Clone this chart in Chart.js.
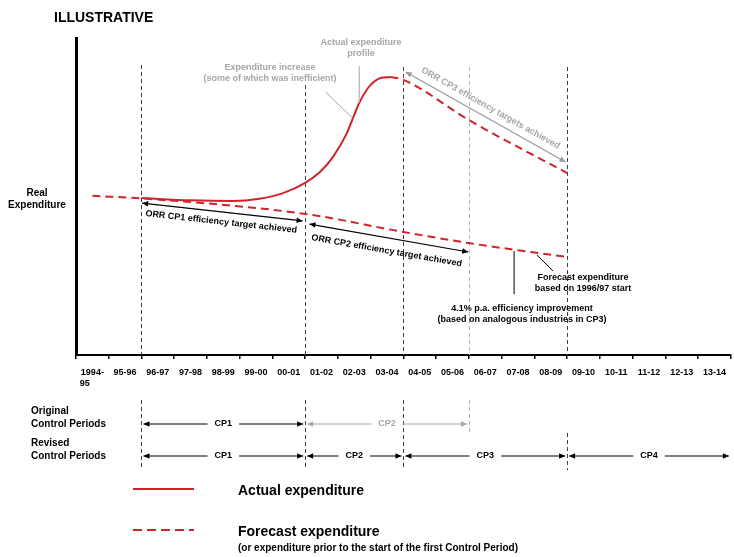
<!DOCTYPE html>
<html>
<head>
<meta charset="utf-8">
<script src="https://cdn.jsdelivr.net/npm/chart.js@4.4.1/dist/chart.umd.min.js"></script>
<style>
  html,body{margin:0;padding:0;background:#fff;}
  #wrap{position:relative;width:734px;height:557px;}
</style>
</head>
<body>
<div id="wrap"><canvas id="c" width="734" height="557"></canvas></div>
<script>
// x runs in year slots: 0 = start of 1994-95, 20 = end of 13-14
const yearLabels = [['1994-', '95      '], '95-96', '96-97', '97-98', '98-99', '99-00', '00-01', '01-02', '02-03', '03-04',
  '04-05', '05-06', '06-07', '07-08', '08-09', '09-10', '10-11', '11-12', '12-13', '13-14'];

// forecast before CP1, then forecast based on a 1996/97 start
const forecastX = [0.5, 2, 7, 10, 12, 15];
const forecastY = [50.2, 49.4, 44.5, 38.8, 35.3, 30.9];

// actual expenditure profile
const actualX = [2, 3.5, 4.8, 5.6, 6.3, 7, 7.45, 7.85, 8.25, 8.65, 8.9, 9.1, 9.3, 9.6];
const actualY = [49.5, 48.8, 48.6, 49.3, 51, 54.3, 57.7, 62.5, 69.5, 79.5, 84, 86.2, 87.4, 87.7];

// forecast after the peak (CP3 targets)
const cp3X = [9.6, 10, 12, 15];
const cp3Y = [87.7, 86.8, 74.1, 57.4];

// control period boundaries, in year slots
const periodLines = [2, 7, 10, 12, 15];
const originalPeriods = [[2, 7, 'CP1'], [7, 12, 'CP2']];
const revisedPeriods = [[2, 7, 'CP1'], [7, 10, 'CP2'], [10, 15, 'CP3'], [15, 20, 'CP4']];

const FF = "'Liberation Sans', Arial, Helvetica, sans-serif";
const RED = '#d2232a';
const GREY = '#a6a6a6';
const pts = (xs, ys) => xs.map((v, i) => ({ x: v, y: ys[i] }));

function dashedV(ctx, x, y1, y2, color) {
  ctx.save();
  ctx.strokeStyle = color; ctx.lineWidth = 1; ctx.setLineDash([4, 3]);
  ctx.beginPath(); ctx.moveTo(Math.round(x) + 0.5, y1); ctx.lineTo(Math.round(x) + 0.5, y2); ctx.stroke();
  ctx.restore();
}

function head(ctx, x, y, ang, color) {
  ctx.save();
  ctx.translate(x, y); ctx.rotate(ang);
  ctx.fillStyle = color;
  ctx.beginPath(); ctx.moveTo(0, 0); ctx.lineTo(-6, -2.8); ctx.lineTo(-6, 2.8); ctx.closePath(); ctx.fill();
  ctx.restore();
}

function arrow(ctx, x1, y1, x2, y2, color) {
  const a = Math.atan2(y2 - y1, x2 - x1);
  ctx.save();
  ctx.strokeStyle = color; ctx.lineWidth = 1.2;
  ctx.beginPath(); ctx.moveTo(x1, y1); ctx.lineTo(x2, y2); ctx.stroke();
  ctx.restore();
  head(ctx, x2, y2, a, color);
  head(ctx, x1, y1, a + Math.PI, color);
}

function line(ctx, x1, y1, x2, y2, color) {
  ctx.save();
  ctx.strokeStyle = color; ctx.lineWidth = 1;
  ctx.beginPath(); ctx.moveTo(x1, y1); ctx.lineTo(x2, y2); ctx.stroke();
  ctx.restore();
}

function txt(ctx, s, x, y, size, color, align) {
  ctx.save();
  ctx.font = 'bold ' + size + 'px ' + FF;
  ctx.fillStyle = color; ctx.textAlign = align || 'center'; ctx.textBaseline = 'middle';
  ctx.fillText(s, x, y);
  ctx.restore();
}

function alongText(ctx, s, x1, y1, x2, y2, off, color) {
  ctx.save();
  ctx.translate((x1 + x2) / 2, (y1 + y2) / 2);
  ctx.rotate(Math.atan2(y2 - y1, x2 - x1));
  ctx.font = 'bold 9px ' + FF;
  ctx.fillStyle = color; ctx.textAlign = 'center'; ctx.textBaseline = 'middle';
  ctx.fillText(s, 0, off);
  ctx.restore();
}

// arrow with a label sitting in a gap in the middle
function periodArrow(ctx, x1, x2, y, label, color) {
  ctx.save();
  ctx.font = 'bold 9px ' + FF;
  const w = ctx.measureText(label).width + 14;
  ctx.restore();
  const m = (x1 + x2) / 2;
  line(ctx, x1 + 2, y, m - w / 2, y, color);
  line(ctx, m + w / 2, y, x2 - 2, y, color);
  head(ctx, x1 + 2, y, Math.PI, color);
  head(ctx, x2 - 2, y, 0, color);
  txt(ctx, label, m, y, 9, color);
}

const notes = {
  id: 'notes',
  beforeDatasetsDraw(chart) {
    const { ctx, scales: { x, y } } = chart;
    const bottom = y.getPixelForValue(0);
    periodLines.forEach(v => {
      const top = v === 2 ? 65 : (v === 7 ? 85 : 67);
      dashedV(ctx, x.getPixelForValue(v), top, bottom, v === 12 ? '#b5b5b5' : '#404040');
    });
  },
  afterDraw(chart) {
    const { ctx, scales: { x, y } } = chart;
    const px = v => x.getPixelForValue(v);
    const py = v => y.getPixelForValue(v);

    txt(ctx, 'ILLUSTRATIVE', 54, 18, 14, '#000', 'left');
    txt(ctx, 'Real', 37, 193, 10, '#000');
    txt(ctx, 'Expenditure', 37, 205, 10, '#000');

    // grey call-outs above the peak
    txt(ctx, 'Actual expenditure', 361, 43, 9, GREY);
    txt(ctx, 'profile', 361, 54, 9, GREY);
    line(ctx, px(8.65), 66, px(8.65), py(79.5), GREY);
    txt(ctx, 'Expenditure increase', 270, 68, 9, GREY);
    txt(ctx, '(some of which was inefficient)', 270, 79, 9, GREY);
    line(ctx, px(7.62), py(83), px(8.44), py(74.8), GREY);

    // efficiency target arrows
    arrow(ctx, px(2.02), py(47.9), px(6.92), py(42.3), '#000');
    alongText(ctx, 'ORR CP1 efficiency target achieved', px(2.02), py(47.9), px(6.92), py(42.3), 10, '#000');
    arrow(ctx, px(7.13), py(41.3), px(11.98), py(32.5), '#000');
    alongText(ctx, 'ORR CP2 efficiency target achieved', px(7.13), py(41.3), px(11.98), py(32.5), 13, '#000');
    arrow(ctx, px(10.07), py(89.3), px(14.95), py(60.9), '#999');
    alongText(ctx, 'ORR CP3 efficiency targets achieved', px(10.07), py(89.3), px(14.95), py(60.9), -10, GREY);

    // forecast call-outs
    line(ctx, px(14.08), py(31.5), px(14.57), py(26.5), '#000');
    txt(ctx, 'Forecast expenditure', 583, 278, 9, '#000');
    txt(ctx, 'based on 1996/97 start', 583, 289, 9, '#000');
    line(ctx, px(13.38), py(32.8), px(13.38), py(19.2), '#000');
    txt(ctx, '4.1% p.a. efficiency improvement', 522, 309, 9, '#000');
    txt(ctx, '(based on analogous industries in CP3)', 522, 320, 9, '#000');

    // control periods
    periodLines.forEach(v => {
      if (v === 12) dashedV(ctx, px(v), 400, 433, '#b5b5b5');
      else if (v === 15) dashedV(ctx, px(v), 433, 470, '#404040');
      else dashedV(ctx, px(v), 400, 470, '#404040');
    });
    txt(ctx, 'Original', 31, 411, 10, '#000', 'left');
    txt(ctx, 'Control Periods', 31, 424, 10, '#000', 'left');
    txt(ctx, 'Revised', 31, 443, 10, '#000', 'left');
    txt(ctx, 'Control Periods', 31, 456, 10, '#000', 'left');
    originalPeriods.forEach(p => periodArrow(ctx, px(p[0]), px(p[1]), 424, p[2], p[2] === 'CP2' ? GREY : '#000'));
    revisedPeriods.forEach(p => periodArrow(ctx, px(p[0]), Math.min(px(p[1]), 733), 456, p[2], '#000'));

    // legend
    ctx.save();
    ctx.strokeStyle = RED; ctx.lineWidth = 2;
    ctx.beginPath(); ctx.moveTo(133, 489); ctx.lineTo(194, 489); ctx.stroke();
    ctx.setLineDash([9, 5]);
    ctx.beginPath(); ctx.moveTo(133, 530); ctx.lineTo(194, 530); ctx.stroke();
    ctx.restore();
    txt(ctx, 'Actual expenditure', 238, 491, 14, '#000', 'left');
    txt(ctx, 'Forecast expenditure', 238, 532, 14, '#000', 'left');
    txt(ctx, '(or expenditure prior to the start of the first Control Period)', 238, 548, 10, '#000', 'left');
  }
};

new Chart(document.getElementById('c'), {
  type: 'line',
  data: {
    datasets: [
      { label: 'Forecast expenditure', data: pts(forecastX, forecastY), borderColor: RED, borderWidth: 2,
        borderDash: [8, 5], cubicInterpolationMode: 'monotone', pointRadius: 0 },
      { label: 'Forecast expenditure (CP3)', data: pts(cp3X, cp3Y), borderColor: RED, borderWidth: 2,
        borderDash: [8, 5], cubicInterpolationMode: 'monotone', pointRadius: 0 },
      { label: 'Actual expenditure', data: pts(actualX, actualY), borderColor: RED, borderWidth: 2,
        cubicInterpolationMode: 'monotone', pointRadius: 0 }
    ]
  },
  options: {
    responsive: false,
    animation: false,
    layout: { padding: { top: 38, left: 0, right: 0, bottom: 0 } },
    plugins: { legend: { display: false }, tooltip: { enabled: false } },
    scales: {
      x: {
        type: 'linear', min: 0, max: 20,
        afterBuildTicks: s => { s.ticks = yearLabels.map((_, i) => ({ value: i + 0.5 })); },
        afterFit: s => { s.height = 202; },
        ticks: {
          autoSkip: false, maxRotation: 0, padding: 8, color: '#000',
          font: { family: FF, size: 9, weight: 'bold' },
          callback: (v, i) => yearLabels[i]
        },
        grid: { offset: true, drawOnChartArea: false, drawTicks: true, tickLength: 4, color: '#000', lineWidth: 1.5 },
        border: { color: '#000', width: 2 }
      },
      y: {
        min: 0, max: 100,
        afterFit: s => { s.width = 76; },
        ticks: { display: false },
        grid: { display: false, drawTicks: false },
        border: { color: '#000', width: 3 }
      }
    }
  },
  plugins: [notes]
});
</script>
</body>
</html>
